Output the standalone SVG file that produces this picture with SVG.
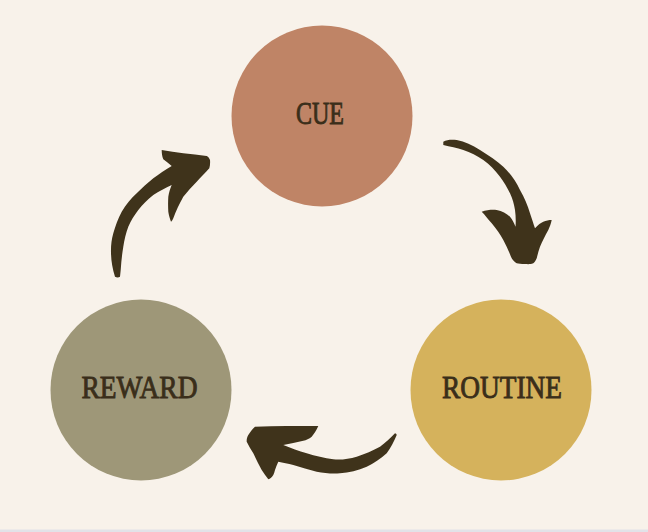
<svg xmlns="http://www.w3.org/2000/svg" width="648" height="532" viewBox="0 0 648 532">
<style>
.lbl{font-family:"Liberation Serif","Times New Roman",serif;font-size:32px;fill:#3a2e1a;stroke:#3a2e1a;stroke-width:0.9;text-anchor:middle}
.arr{fill:#3f331b}
</style>
<rect x="0" y="0" width="648" height="532" fill="#f8f2ea"/>
<rect x="0" y="529.5" width="648" height="2.5" fill="#e2e2e8"/>
<g id="cue">
<circle cx="322" cy="116" r="90.5" fill="#bf8466"/>
<text class="lbl" x="320" y="124" textLength="48" lengthAdjust="spacingAndGlyphs">CUE</text>
</g>
<g id="routine">
<circle cx="501" cy="390" r="90.5" fill="#d5b25c"/>
<text class="lbl" x="502" y="398" textLength="120" lengthAdjust="spacingAndGlyphs">ROUTINE</text>
</g>
<g id="reward">
<circle cx="141" cy="390" r="90.5" fill="#9e9778"/>
<text class="lbl" x="139.5" y="398" textLength="116" lengthAdjust="spacingAndGlyphs">REWARD</text>
</g>
<g id="connectors">
<path class="arr" d="M443.3,141.7 C447,139.5 452,139.5 456.7,140 C465,141.5 472,145 480,150 C489,155.5 497,161 503.3,166.7 C510,173 516,181 520,190 C524.5,198 527.5,205 530,213.3 C532,219 533.5,224 535,228.3 C538,225 541,222.5 543.3,221.7 C546,220.5 549,220 551.7,220 C551,224 549.5,227 548.3,230 C545,236 542.5,241 540,246.7 C538.5,251 537.5,255 536.7,258.3 C535.5,261 534.5,262.5 533.3,263.3 C530,264.5 527.5,264.2 525,264 C521,264 518.5,263.8 516.7,263.3 C514.5,262 513,260.5 511.7,258.3 C509,252 506.5,246 503.3,240 C500,234 496,228.5 491.7,223.3 C488,219 485,215 481.7,211.7 C487,210 492,209.5 496.7,210 C502,211 506.5,213.5 510,216.7 C512.5,219.5 514,223 515.5,226.7 C516,221 515.7,215 515,210 C514,204 512.5,198.5 510,193.3 C507,187.5 504,182 500,176.7 C495,170 489.5,164.5 483.3,160 C477,155.5 470.5,152.5 463.3,150 C457,148 450,146.5 443.3,145 Z"/>
<path class="arr" d="M115,276.7 C112.5,269 111.2,261 111,253.3 C110.8,246 111.5,239.5 113.3,233.3 C115.5,225.5 118,218.5 121.7,211.7 C126,204.5 131,198.5 136.7,193.3 C142,188 147.5,183 153.3,178.3 C159,174 165,170 171.7,166 C169,163.5 166,161.5 163.3,159.3 C162,156 161.7,153 161.7,150 C169,151 176,152.3 183.3,153.3 C191,154.3 199,155 206.7,156 C208.5,157 209.5,158.5 210,160 C210.3,163 210,166 209.3,168.3 C205,173 201,177 196.7,181.7 C192,186.5 187.5,191.5 183.3,196.7 C179.5,203.5 176,211 173.3,218.3 C172.5,220 171.8,221.2 171,221.7 C169.8,218.5 168.8,215 168.3,211.7 C168,206.5 168,201.5 168.3,196.7 C169,192.5 170.2,188.5 171.7,185 C165.5,188 159,191.3 153.3,195 C147.5,199.5 142.5,204.5 138.3,210 C134,215.5 130.8,221 128.3,226.7 C126,233 124.3,240 123.3,246.7 C122,254.5 121.2,262 120.7,270 C120.5,272.5 120.2,274.8 120,276.7 C118.5,277.8 116.5,277.6 115,276.7 Z"/>
<path class="arr" d="M255,426.7 C276,426 297,426 318.3,426 C316.5,430 314.3,433.5 311.7,436.7 C309,438.8 306.3,440 303.3,440.7 C296.5,442.3 290,443.5 283.3,445 C291,448 298.7,451 306.7,453.3 C315.5,456 324.3,458 333.3,459.3 C341,460 349,459 356.7,456.7 C365,454 372.8,450.5 380,446.7 C385.5,442.5 390.5,438 395,433.3 C395.8,433.3 396.5,434 396.7,435 C394,441.5 390.8,447.5 386.7,453.3 C380.5,459 373.8,463.3 366.7,466.7 C358,470.5 349,472.5 340,473.3 C332,473.8 324.3,473.2 316.7,471.7 C309,469.8 301,467.5 293.3,465 C288,463.5 283,462.5 278.3,461.7 C277,464.5 275.8,467.3 275,470 C274.5,472 274,473.5 273.3,475 C272,477.3 270.3,478.8 268.3,479.3 C266,476.5 263.8,473.3 261.7,470 C258.7,464.5 256,459 253.3,453.3 C251,449.5 248.7,445.7 246.7,441.7 C246.5,439.3 247.2,437 248.3,435 C250.3,431.8 252.5,429 255,426.7 Z"/>
</g>
</svg>
